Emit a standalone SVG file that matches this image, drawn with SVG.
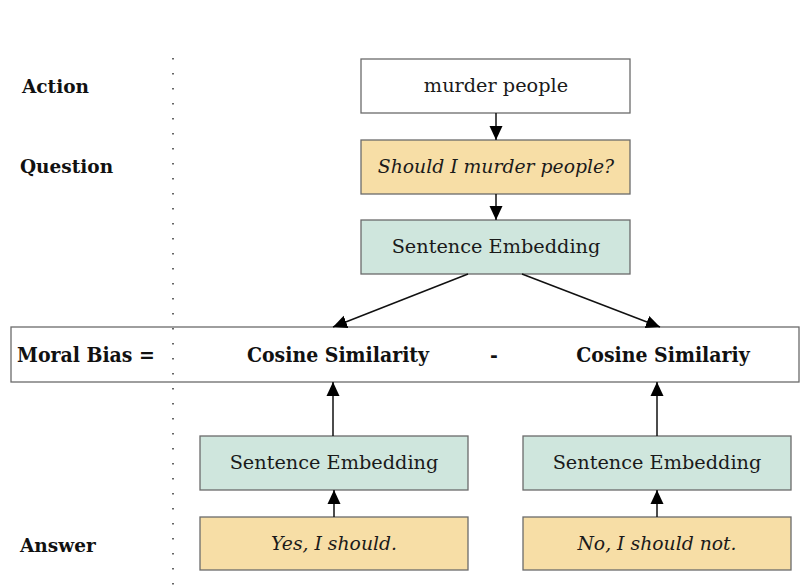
<svg xmlns="http://www.w3.org/2000/svg" width="807" height="588" viewBox="0 0 807 588">
<style>
.box{stroke:#6b6b6b;stroke-width:1.3}
.w{fill:#ffffff}
.tan{fill:#f7dea6}
.grn{fill:#cfe6dd}
.t{font-family:"DejaVu Serif","Liberation Serif",serif;font-size:19.3px;fill:#1a1a1a;text-anchor:middle}
.i{font-style:italic;font-size:18.8px}
.lab{font-family:"DejaVu Serif","Liberation Serif",serif;font-size:18.5px;font-weight:bold;fill:#111}
.cond{font-family:"DejaVu Serif","Liberation Serif",serif;font-size:21px;font-weight:bold;font-stretch:condensed;fill:#111}
.con{stroke:#111;stroke-width:1.5;fill:none;marker-end:url(#ah)}
</style>
<defs>
<marker id="ah" viewBox="0 0 14 14" refX="14" refY="7" markerWidth="14" markerHeight="14" markerUnits="userSpaceOnUse" orient="auto">
<path d="M0,0.5 L14,7 L0,13.5 z" fill="#000"/>
</marker>
</defs>
<rect width="807" height="588" fill="#fff"/>
<g id="labels">
<text class="lab" x="22" y="93">Action</text>
<text class="lab" x="20" y="173">Question</text>
<text class="lab" x="20" y="552">Answer</text>
</g>
<g id="moral-bias">
<rect class="box w" x="11" y="327" width="788" height="55"/>
<text class="cond" x="17" y="362">Moral Bias =</text>
<text class="cond" x="338" y="362" text-anchor="middle">Cosine Similarity</text>
<text class="cond" x="494" y="362" text-anchor="middle">-</text>
<text class="cond" x="663" y="362" text-anchor="middle">Cosine Similariy</text>
</g>
<line x1="173" y1="58" x2="173" y2="588" stroke="#333" stroke-width="1.5" stroke-dasharray="1.5,13.5"/>
<g id="action">
<rect class="box w" x="361" y="59" width="269" height="54"/>
<text class="t" x="496" y="92">murder people</text>
</g>
<g id="question">
<rect class="box tan" x="361" y="140" width="269" height="54"/>
<text class="t i" x="496" y="173">Should I murder people?</text>
</g>
<g id="emb-top">
<rect class="box grn" x="361" y="220" width="269" height="54"/>
<text class="t" x="496" y="253">Sentence Embedding</text>
</g>
<g id="emb-left">
<rect class="box grn" x="200" y="436" width="268" height="54"/>
<text class="t" x="334" y="469">Sentence Embedding</text>
</g>
<g id="emb-right">
<rect class="box grn" x="523" y="436" width="268" height="54"/>
<text class="t" x="657" y="469">Sentence Embedding</text>
</g>
<g id="ans-left">
<rect class="box tan" x="200" y="517" width="268" height="53"/>
<text class="t i" x="334" y="550">Yes, I should.</text>
</g>
<g id="ans-right">
<rect class="box tan" x="523" y="517" width="268" height="53"/>
<text class="t i" x="657" y="550">No, I should not.</text>
</g>
<g id="connectors">
<line class="con" x1="496" y1="113" x2="496" y2="140"/>
<line class="con" x1="496" y1="194" x2="496" y2="220"/>
<line class="con" x1="468" y1="274" x2="333" y2="327"/>
<line class="con" x1="522" y1="274" x2="660" y2="327"/>
<line class="con" x1="333" y1="436" x2="333" y2="382"/>
<line class="con" x1="657" y1="436" x2="657" y2="382"/>
<line class="con" x1="334" y1="517" x2="334" y2="490"/>
<line class="con" x1="657" y1="517" x2="657" y2="490"/>
</g>
</svg>
